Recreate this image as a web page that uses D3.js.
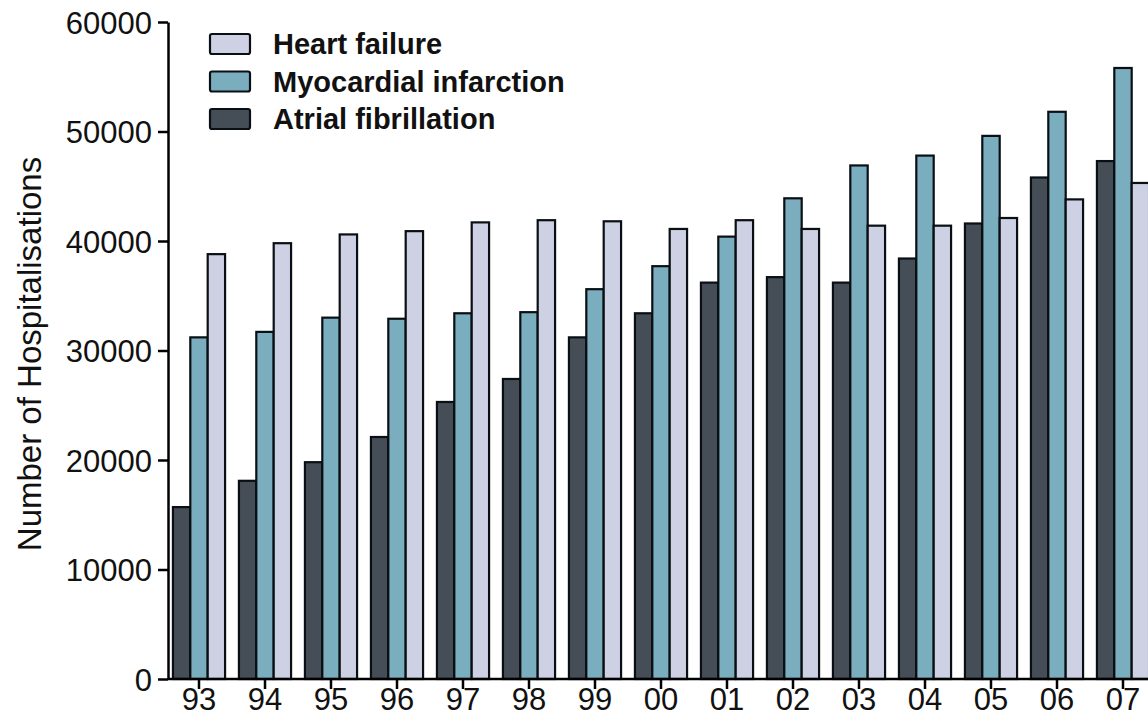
<!DOCTYPE html>
<html>
<head>
<meta charset="utf-8">
<script src="https://cdn.jsdelivr.net/npm/d3@7"></script>
<style>
  html, body { margin: 0; padding: 0; background: #fff; }
  svg { display: block; }
  text { font-family: "Liberation Sans", Arial, sans-serif; fill: #111; }
</style>
</head>
<body>
<svg id="chart" width="1148" height="727"></svg>
<script>
const years = ["93","94","95","96","97","98","99","00","01","02","03","04","05","06","07"];
const atrialFibrillation   = [15700, 18100, 19800, 22100, 25300, 27400, 31200, 33400, 36200, 36700, 36200, 38400, 41600, 45800, 47300];
const myocardialInfarction = [31200, 31700, 33000, 32900, 33400, 33500, 35600, 37700, 40400, 43900, 46900, 47800, 49600, 51800, 55800];
const heartFailure         = [38800, 39800, 40600, 40900, 41700, 41900, 41800, 41100, 41900, 41100, 41400, 41400, 42100, 43800, 45300];
const yTicks = [0, 10000, 20000, 30000, 40000, 50000, 60000];
const seriesNames = ["Atrial fibrillation", "Myocardial infarction", "Heart failure"];
const seriesValues = [atrialFibrillation, myocardialInfarction, heartFailure];
const seriesColors = ["#454d57", "#7aaebf", "#cdd1e3"];
const legendOrder = ["Heart failure", "Myocardial infarction", "Atrial fibrillation"];

const svg = d3.select("#chart");
const axisX = 168, baseY = 679, topY = 22;

const y = d3.scaleLinear().domain([0, 60000]).range([baseY, topY]);
const x = d3.scaleBand().domain(years).range([166, 1156]).paddingInner(0.21).paddingOuter(0.105);
const xs = d3.scaleBand().domain(seriesNames).range([0, x.bandwidth()]).padding(0);

// bars
const groups = svg.append("g").selectAll("g")
  .data(years).join("g")
  .attr("transform", d => `translate(${x(d)},0)`);
groups.selectAll("rect")
  .data((d, i) => seriesNames.map((s, k) => ({ s, v: seriesValues[k][i], c: seriesColors[k] })))
  .join("rect")
  .attr("x", d => xs(d.s))
  .attr("width", xs.bandwidth())
  .attr("y", d => y(d.v))
  .attr("height", d => baseY - y(d.v))
  .attr("fill", d => d.c)
  .attr("stroke", "#0a0f14")
  .attr("stroke-width", 2.2);

// y axis
const yAxis = svg.append("g").attr("transform", `translate(${axisX},0)`)
  .call(d3.axisLeft(y).tickValues(yTicks).tickSize(10).tickSizeOuter(0).tickFormat(d3.format("d")));
yAxis.select(".domain").attr("stroke", "#000").attr("stroke-width", 2.5);
yAxis.selectAll(".tick line").attr("stroke", "#000").attr("stroke-width", 2.5);
yAxis.selectAll(".tick text")
  .attr("x", -16).attr("dy", "0.36em")
  .attr("font-size", 31).attr("text-anchor", "end");

// x axis
const xAxis = svg.append("g").attr("transform", `translate(0,${baseY})`)
  .call(d3.axisBottom(x).tickSize(10).tickSizeOuter(0));
xAxis.select(".domain").attr("d", `M${axisX},0H1148`).attr("stroke", "#000").attr("stroke-width", 2.5);
xAxis.selectAll(".tick line").attr("stroke", "#000").attr("stroke-width", 2.5);
xAxis.selectAll(".tick text")
  .attr("y", 31).attr("dy", null)
  .attr("font-size", 31).attr("text-anchor", "middle");

// y title
svg.append("text")
  .attr("transform", `translate(41,354) rotate(-90)`)
  .attr("text-anchor", "middle")
  .attr("font-size", 33)
  .text("Number of Hospitalisations");

// legend
const legend = svg.append("g").selectAll("g")
  .data(legendOrder).join("g")
  .attr("transform", (d, i) => `translate(210,${44 + i * 37.5})`);
legend.append("rect")
  .attr("x", 0).attr("y", -10).attr("width", 40).attr("height", 20).attr("rx", 2)
  .attr("fill", d => seriesColors[seriesNames.indexOf(d)])
  .attr("stroke", "#0a0f14").attr("stroke-width", 2.2);
legend.append("text")
  .attr("x", 63).attr("dy", "0.36em")
  .attr("font-size", 29).attr("font-weight", "bold")
  .text(d => d);
</script>
</body>
</html>
